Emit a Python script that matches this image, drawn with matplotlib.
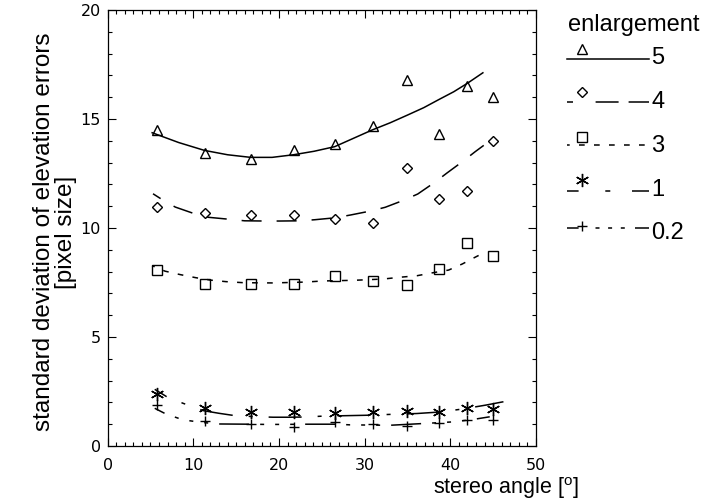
import matplotlib
matplotlib.use("Agg")
import matplotlib.pyplot as plt
from matplotlib.ticker import MultipleLocator

# stereo angles of the test runs [deg]
angles = [5.71, 11.31, 16.70, 21.80, 26.57, 30.96, 34.99, 38.66, 41.99, 45.00]

# std of elevation errors per enlargement factor (symbols)
err_5 = [14.50, 13.45, 13.15, 13.60, 13.85, 14.70, 16.80, 14.30, 16.50, 16.02]
err_4 = [10.98, 10.67, 10.60, 10.60, 10.40, 10.24, 12.75, 11.34, 11.71, 13.99]
err_3 = [8.07, 7.45, 7.42, 7.42, 7.80, 7.58, 7.40, 8.13, 9.30, 8.70]
err_1 = [2.39, 1.73, 1.55, 1.55, 1.53, 1.57, 1.60, 1.55, 1.73, 1.68]
err_02 = [1.88, 1.16, 1.01, 0.86, 1.11, 1.00, 0.92, 1.07, 1.19, 1.19]

# fitted curves
fit5_x = [5.2, 8.3, 11.3, 14.0, 16.7, 19.2, 21.7, 24.1, 26.5, 28.5, 30.9, 33.0, 35.0, 36.9, 38.7, 40.4, 42.0, 43.8]
fit5_y = [14.37, 13.92, 13.56, 13.36, 13.24, 13.24, 13.36, 13.52, 13.73, 14.08, 14.50, 14.83, 15.18, 15.52, 15.90, 16.25, 16.64, 17.12]
fit4_x = [5.3, 6.3, 7.9, 10.1, 11.8, 14.2, 16.0, 18.4, 20.1, 22.5, 24.2, 26.6, 28.4, 30.7, 32.4, 34.6, 36.2, 38.2, 39.6, 41.5, 42.9, 43.9]
fit4_y = [11.57, 11.32, 10.96, 10.66, 10.49, 10.40, 10.33, 10.32, 10.32, 10.33, 10.38, 10.47, 10.60, 10.78, 10.95, 11.28, 11.56, 12.10, 12.52, 13.07, 13.50, 13.79]
fit3_x = [5.2, 6.7, 8.5, 10.3, 12.0, 13.8, 15.9, 19.3, 23.1, 25.1, 28.7, 32.2, 34.1, 36.1, 38.0, 39.8, 41.4, 42.9, 43.5]
fit3_y = [8.27, 8.02, 7.86, 7.72, 7.61, 7.54, 7.49, 7.48, 7.52, 7.57, 7.60, 7.66, 7.74, 7.81, 7.95, 8.07, 8.35, 8.66, 8.78]
fit1_x = [5.5, 6.9, 8.8, 11.2, 13.0, 14.9, 17.0, 19.3, 21.2, 23.1, 25.1, 27.7, 30.2, 33.0, 36.1, 38.8, 41.5, 44.2, 46.2]
fit1_y = [2.60, 2.26, 1.96, 1.62, 1.50, 1.39, 1.35, 1.32, 1.32, 1.33, 1.37, 1.39, 1.41, 1.45, 1.49, 1.56, 1.70, 1.88, 2.03]
fit02_x = [5.5, 6.8, 8.5, 9.0, 11.0, 13.1, 16.6, 18.4, 20.7, 23.0, 26.7, 28.3, 32.9, 36.3, 40.5, 42.7, 44.6]
fit02_y = [1.73, 1.47, 1.24, 1.19, 1.08, 1.01, 1.00, 0.99, 0.99, 1.00, 1.00, 0.97, 0.95, 1.02, 1.11, 1.22, 1.34]

labels = ["5", "4", "3", "1", "0.2"]

PT = 0.72  # px -> pt at 100 dpi
plt.rcParams["lines.scale_dashes"] = False
plt.rcParams["mathtext.fontset"] = "custom"
plt.rcParams["mathtext.rm"] = "Liberation Sans"

LBL_FONT = "Liberation Sans"
TICK_FONT = "DejaVu Sans"

def px(seq):
    return [v * PT for v in seq]

# marker, markersize, dash pattern on curve, dash pattern in legend (px)
styles = {
    "5": dict(marker="^", ms=6.6, ls="-", leg=None),
    "4": dict(marker="D", ms=5.6, ls=(11 * PT, px([20, 15])), leg=(0, px([6, 22.6, 23, 10, 21, 10]))),
    "3": dict(marker="s", ms=7.2, ls=(3 * PT, px([5.7, 9.3])), leg=(3 * PT, px([5.7, 9.3]))),
    "1": dict(marker=(6, 2, 0), ms=9.5, ls=(19 * PT, px([33, 16, 4, 16])), leg=(0, px([11.6, 26.7, 5, 21.7, 17.3, 10]))),
    "0.2": dict(marker="+", ms=7.5, ls=(19 * PT, px([30, 11, 4, 11, 4, 11, 4, 11])),
                leg=(0, px([11.6, 16.9, 4, 8.6, 4, 8.7, 4, 10.2, 17.3, 10]))),
}

series = {
    "5": (err_5, fit5_x, fit5_y),
    "4": (err_4, fit4_x, fit4_y),
    "3": (err_3, fit3_x, fit3_y),
    "1": (err_1, fit1_x, fit1_y),
    "0.2": (err_02, fit02_x, fit02_y),
}

fig = plt.figure(figsize=(7.06, 5.0), dpi=100)
ax = fig.add_axes([107.6 / 706, 1 - 446 / 500, (536 - 107.6) / 706, (446 - 10) / 500])

for lab in labels:
    err, fx, fy = series[lab]
    st = styles[lab]
    ax.plot(fx, fy, color="black", lw=1.1, linestyle=st["ls"])
    ax.plot(angles, err, linestyle="none", marker=st["marker"], ms=st["ms"],
            mfc="none", mec="black", mew=1.0)

ax.set_xlim(0, 50)
ax.set_ylim(0, 20)
ax.xaxis.set_major_locator(MultipleLocator(10))
ax.xaxis.set_minor_locator(MultipleLocator(1))
ax.yaxis.set_major_locator(MultipleLocator(5))
ax.yaxis.set_minor_locator(MultipleLocator(1))
ax.tick_params(which="both", direction="in", top=True, right=True, width=0.8, colors="black")
ax.tick_params(which="major", length=5.5)
ax.tick_params(which="minor", length=2.8)
ax.tick_params(axis="x", which="major", pad=9)
ax.tick_params(axis="y", which="major", pad=5)
for t in ax.get_xticklabels() + ax.get_yticklabels():
    t.set_fontfamily(TICK_FONT)
    t.set_fontsize(11.5)
for sp in ax.spines.values():
    sp.set_linewidth(0.9)

fig.text(55 / 706, 1 - 232 / 500,
         "standard deviation of elevation errors\n[pixel size]",
         rotation=90, ha="center", va="center", multialignment="center",
         fontsize=17.5, family=LBL_FONT, linespacing=1.0)
fig.text(433 / 706, 1 - 494 / 500, r"stereo angle [$^{\rm o}$]",
         ha="left", va="baseline", fontsize=15.5, family=LBL_FONT)

# hand-built legend: marker above the line sample, label to the right
lax = fig.add_axes([0, 0, 1, 1])
lax.set_xlim(0, 706)
lax.set_ylim(500, 0)
lax.axis("off")
lax.text(568, 25, "enlargement", ha="left", va="center", fontsize=17, family=LBL_FONT)
line_y = [59.3, 101.7, 144.7, 191.0, 227.7]
mark_y = [49.0, 92.0, 137.0, 180.0, 225.7]
text_y = [58.3, 101.7, 146.0, 190.0, 233.3]
for lab, ly, my, ty in zip(labels, line_y, mark_y, text_y):
    st = styles[lab]
    lax.plot([566.7, 649], [ly, ly], color="black", lw=1.1,
             linestyle="-" if st["leg"] is None else st["leg"])
    lax.plot([581.7], [my], linestyle="none", marker=st["marker"], ms=st["ms"],
             mfc="none", mec="black", mew=1.0)
    lax.text(651, ty, lab, ha="left", va="center", fontsize=17, family=LBL_FONT)

fig.savefig("out.png", dpi=100)
